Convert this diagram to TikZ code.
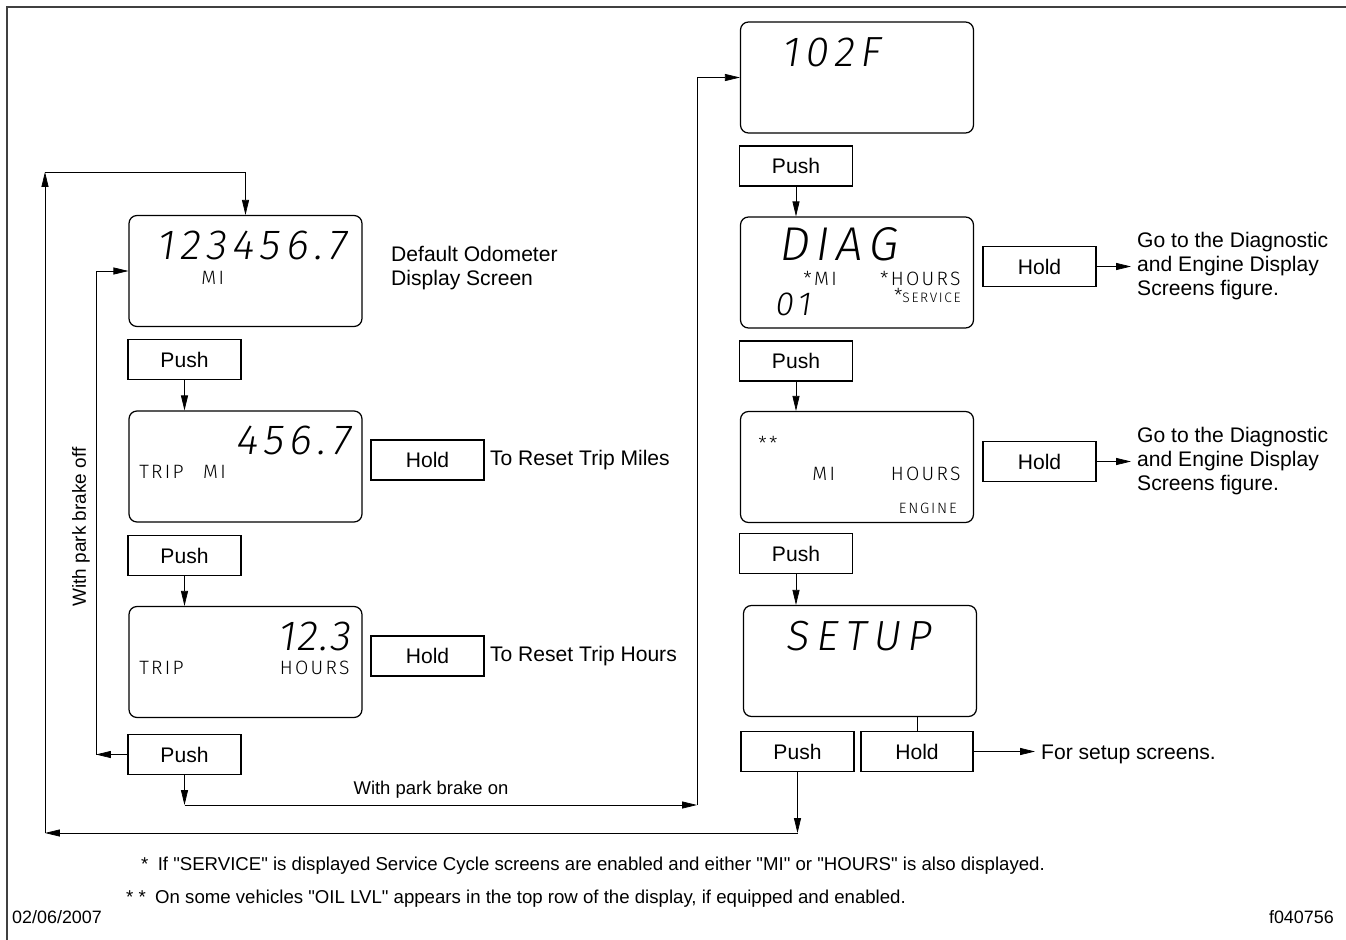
\documentclass[tikz,border=0pt]{standalone}
\usepackage{fontspec}
\setmainfont{Liberation Sans}
\newfontfamily\lcdfont{Fira Sans Light}[LetterSpace=12]
\newfontfamily\segfont{Fira Sans Light}[FakeSlant=0.15, LetterSpace=14]
\usetikzlibrary{arrows.meta}

\begin{document}
\begin{tikzpicture}[x=0.02cm, y=-0.02cm, >={Triangle[length=8.5pt,width=4pt]},
  every node/.style={font=\fontsize{12}{13.6}\selectfont},
  screen/.style={draw, line width=0.7pt, rounded corners=4.5pt, minimum width=4.66cm, minimum height=2.22cm},
  key/.style={draw, line width=0.6pt, minimum width=2.26cm, minimum height=0.8cm},
  lcd/.style={font=\lcdfont\fontsize{11}{12}\selectfont, inner sep=0pt},
  seg/.style={font=\segfont\fontsize{24}{24}\selectfont, inner sep=0pt},
  note/.style={font=\fontsize{10.6}{12}\selectfont}]
\useasboundingbox (0,0) rectangle (1346,940);
\draw[line width=0.9pt, black!75] (7,940) -- (7,7) -- (1346,7);

% left column
\node[screen] (odo) at (245.5,271) {};
\node[seg, anchor=base west] (odonum) at (156,259) {123456.7};
\node[lcd, anchor=base west] (odomi) at (201,284) {MI};
\node[anchor=west, align=left] (odotxt) at (385,268) {Default Odometer\\Display Screen};
\node[key] (push1) at (184.5,359.5) {Push};

\node[screen] (tripmi) at (245.5,466.5) {};
\node[seg, anchor=base east] (tripminum) at (350,454) {456.7};
\node[lcd, anchor=base west] (tripmitxt) at (139,478) {TRIP\hspace{11pt}MI};
\node[key] (hold1) at (427.5,460) {Hold};
\node[anchor=west, inner sep=3pt] (resetmi) at (hold1.east) {To Reset Trip Miles};
\node[key] (push2) at (184.5,555.5) {Push};

\node[screen] (triphr) at (245.5,662) {};
\node[seg, anchor=base east, font=\segfont\fontsize{24}{24}\addfontfeature{LetterSpace=4}\selectfont] (triphrnum) at (350,650) {12.3};
\node[lcd, anchor=base west] (triphrtxt) at (139,674) {TRIP};
\node[lcd, anchor=base east] (triphrunit) at (350,674) {HOURS};
\node[key] (hold2) at (427.5,656) {Hold};
\node[anchor=west, inner sep=3pt] (resethr) at (hold2.east) {To Reset Trip Hours};
\node[key] (push3) at (184.5,754.5) {Push};

% right column
\node[screen] (temp) at (857,77.5) {};
\node[seg, anchor=base west] (tempnum) at (781,66) {102F};
\node[key] (pushr1) at (796,166) {Push};

\node[screen] (diag) at (857,272.5) {};
\node[seg, anchor=base west, font=\segfont\fontsize{27}{27}\selectfont] (diagtxt) at (778,260) {DIAG};
\node[lcd, anchor=base west] (diagmi) at (803,285) {*MI};
\node[lcd, anchor=base east] (diaghr) at (961,285) {*HOURS};
\node[seg, anchor=base west, font=\segfont\fontsize{19}{19}\selectfont] (diagnum) at (774,315) {01};
\node[lcd, anchor=base east] (diagsrv) at (961,302) {*{\fontsize{7.8}{9}\selectfont SERVICE}};
\node[key] (holdr1) at (1039.5,266.5) {Hold};
\node[anchor=west, align=left] (goto1) at (1131,266) {Go to the Diagnostic\\and Engine Display\\Screens figure.};
\node[key] (pushr2) at (796,361) {Push};

\node[screen] (eng) at (857,467) {};
\node[lcd, anchor=base west] (engstar) at (758,450) {**};
\node[lcd, anchor=base west] (engmi) at (812,480) {MI};
\node[lcd, anchor=base east] (enghr) at (961,480) {HOURS};
\node[lcd, anchor=base east, font=\lcdfont\fontsize{8.5}{10}\selectfont] (engtxt) at (957,513) {ENGINE};
\node[key] (holdr2) at (1039.5,461.5) {Hold};
\node[anchor=west, align=left] (goto2) at (1131,461) {Go to the Diagnostic\\and Engine Display\\Screens figure.};
\node[key] (pushr3) at (796,553.5) {Push};

\node[screen] (setup) at (860,661) {};
\node[seg, anchor=base west, font=\segfont\fontsize{24}{24}\addfontfeature{LetterSpace=17}\selectfont] (setuptxt) at (785,650) {SETUP};
\node[key] (pushr4) at (797.5,751.5) {Push};
\node[key, minimum width=2.24cm] (holdr3) at (917,751.5) {Hold};
\node[anchor=west] (setupscr) at (1035,754) {For setup screens.};

% loops
\coordinate (rtn) at (45,833);
\coordinate (top) at (45,172);
\coordinate (offl) at (96,0);
\coordinate (onr) at (697,805);
\draw[->] (push1.south) -- (push1.south |- tripmi.north);
\draw[->] (push2.south) -- (push2.south |- triphr.north);
\draw[->] (push3.west) -- (push3.west -| offl);
\draw[->] (push3.west -| offl) |- (odo.west);
\draw[->] (push3.south) -- (push3.south |- onr);
\draw[->] (push3.south |- onr) -- (onr);
\draw[->] (onr) |- (temp.west);
\node[font=\fontsize{10.5}{12}\selectfont] (brakeon) at (431,790) {With park brake on};
\node[font=\fontsize{10.8}{12}\selectfont, rotate=90] (brakeoff) at (81,527) {With park brake off};

\draw[->] (pushr1.south) -- (pushr1.south |- diag.north);
\draw[->] (pushr2.south) -- (pushr2.south |- eng.north);
\draw[->] (pushr3.south) -- (pushr3.south |- setup.north);
\draw[->] (holdr1.east) -- (holdr1.east -| goto1.west);
\draw[->] (holdr2.east) -- (holdr2.east -| goto2.west);
\draw (setup.south -| holdr3.north) -- (holdr3.north);
\draw[->] (holdr3.east) -- (holdr3.east -| setupscr.west);
\draw[->] (pushr4.south) -- (pushr4.south |- rtn);
\draw[->] (pushr4.south |- rtn) -- (rtn);
\draw[->] (rtn) -- (top);
\draw[->] (top) -| (odo.north);

% notes
\node[note, anchor=west] (fn1) at (135,866) {*\enspace If \textquotedbl SERVICE\textquotedbl{} is displayed Service Cycle screens are enabled and either \textquotedbl MI\textquotedbl{} or \textquotedbl HOURS\textquotedbl{} is also displayed.};
\node[note, anchor=west] (fn2) at (120,899) {* *\enspace On some vehicles \textquotedbl OIL LVL\textquotedbl{} appears in the top row of the display, if equipped and enabled.};
\node[note, font=\fontsize{10.2}{12}\selectfont, anchor=west] (date) at (6,917) {02/06/2007};
\node[note, font=\fontsize{10.2}{12}\selectfont, anchor=east] (fig) at (1340,917) {f040756};
\end{tikzpicture}
\end{document}
